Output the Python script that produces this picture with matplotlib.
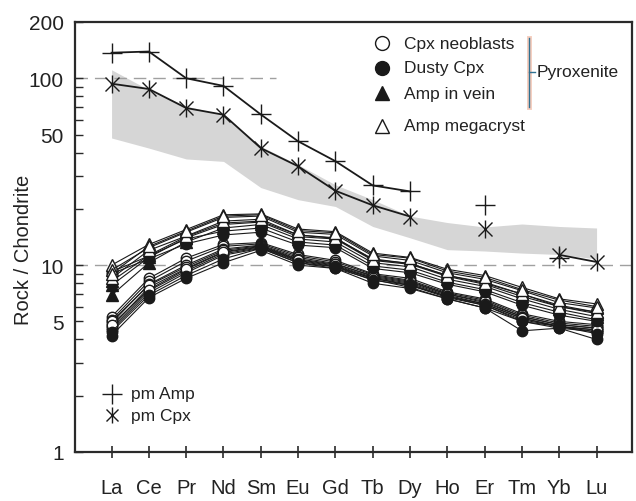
import numpy as np
import matplotlib
matplotlib.use("Agg")
import matplotlib.pyplot as plt
from matplotlib.ticker import FixedLocator, NullFormatter

plt.rcParams['font.family'] = ['Liberation Sans', 'DejaVu Sans']

elements = ["La", "Ce", "Pr", "Nd", "Sm", "Eu", "Gd", "Tb", "Dy", "Ho", "Er", "Tm", "Yb", "Lu"]
nan = np.nan

# primitive-melt style reference lines
pm_amp = [137, 139, 100, 91, 64, 46, 36, 26.7, 24.8, nan, 20.9, nan, 10.9, nan]
pm_cpx = [93.5, 87.6, 69.3, 63.8, 42.3, 33.8, 25.0, 20.9, 18.2, nan, 15.6, nan, 11.35, 10.4]

# grey field
band_upper = [111, 86.7, 71, 63.8, 43.2, 34.5, 26.9, 22.4, 18.3, 16.9, 16.0, 16.6, 16.1, 15.8]
band_lower = [47.9, 42.3, 37.0, 35.9, 26.0, 22.4, 20.6, 16.1, 14.0, 12.1, 11.9, 11.6, 11.4, 10.8]

amp_megacryst = [
    [10.0, 12.9, 15.5, 18.6, 18.8, 15.6, 15.1, 11.6, 11.0, 9.5, 8.8, 7.6, 6.6, 6.2],
    [9.4, 12.4, 15.0, 18.0, 18.3, 15.0, 14.6, 11.2, 10.6, 9.1, 8.4, 7.3, 6.3, 5.9],
    [8.5, 12.0, 14.3, 17.2, 17.6, 14.5, 14.0, 10.7, 10.2, 8.8, 8.0, 7.0, 6.0, 5.6],
    [9.0, 12.6, 15.2, 18.3, 18.6, 15.3, 14.9, 11.4, 10.9, 9.3, 8.6, 7.4, 6.5, 6.0],
]
amp_vein = [
    [6.9, 10.3, 13.3, 15.8, 16.5, 13.8, 13.3, 10.3, 9.8, 8.4, 7.7, 6.6, 5.8, 5.3],
    [7.8, 11.0, 14.0, 16.5, 17.0, 14.2, 13.8, 10.6, 10.1, 8.7, 7.9, 6.8, 6.0, 5.5],
    [8.2, 11.3, 14.2, 16.8, 17.2, 14.5, 13.9, 10.8, 10.2, 8.8, 8.1, 7.0, 6.1, 5.6],
]
dusty_cpx = [
    [9.2, 11.2, 13.8, 15.2, 15.8, 13.3, 12.8, 9.9, 9.4, 8.1, 7.4, 6.3, 5.6, 5.1],
    [9.0, 10.8, 13.0, 14.5, 15.0, 12.8, 12.4, 9.6, 9.1, 7.9, 7.2, 6.1, 5.4, 5.0],
    [4.2, 6.7, 8.5, 10.3, 12.0, 10.0, 9.6, 8.0, 7.5, 6.6, 5.9, 4.45, 4.6, 4.0],
    [4.4, 6.9, 8.8, 10.8, 12.3, 10.3, 9.8, 8.3, 7.8, 6.8, 6.1, 5.0, 4.7, 4.3],
]
cpx_neoblasts = [
    [5.3, 8.5, 10.9, 12.9, 13.2, 11.4, 10.6, 9.0, 8.5, 7.2, 6.6, 5.5, 5.0, 4.8],
    [5.1, 8.2, 10.5, 12.6, 13.0, 11.2, 10.4, 8.9, 8.3, 7.1, 6.5, 5.4, 4.9, 4.7],
    [4.9, 7.9, 10.0, 12.2, 12.8, 11.0, 10.2, 8.7, 8.1, 7.0, 6.3, 5.3, 4.8, 4.6],
    [4.7, 7.6, 9.6, 11.8, 12.6, 10.7, 10.0, 8.6, 8.0, 6.9, 6.2, 5.2, 4.7, 4.5],
    [4.6, 7.3, 9.3, 11.5, 12.4, 10.5, 9.8, 8.5, 7.8, 6.7, 6.1, 5.1, 4.7, 4.4],
    [4.5, 7.1, 9.1, 11.3, 12.3, 10.3, 9.6, 8.4, 7.6, 6.6, 5.9, 5.0, 4.6, 4.4],
    [5.0, 7.8, 9.8, 12.0, 12.7, 10.8, 10.1, 8.8, 8.2, 7.0, 6.4, 5.3, 4.8, 4.6],
    [4.8, 7.4, 9.5, 11.7, 12.5, 10.6, 9.9, 8.5, 7.9, 6.8, 6.2, 5.2, 4.7, 4.5],
]

W, H = 636, 502
fig = plt.figure(figsize=(W / 100, H / 100), dpi=100)
ax = fig.add_axes([75 / W, 1 - 453 / H, (632 - 75) / W, (453 - 23) / H])

x = np.arange(len(elements))
ax.set_yscale('log')
ax.set_ylim(1, 200)
ax.set_xlim(-0.98, 13.95)

# grey field
ax.fill_between(x, band_lower, band_upper, color='#d6d6d6', lw=0, zorder=1)

# dashed reference lines
ax.plot([-0.98, 4.4], [100, 100], color='#a0a0a0', lw=1.0, dashes=(9, 5), zorder=1.5)
ax.axhline(10, color='#a0a0a0', lw=1.0, dashes=(9, 5), zorder=1.5)

lc = '#1a1a1a'
ms = 7.5
for row in cpx_neoblasts:
    ax.plot(x, row, color=lc, lw=0.8, marker='o', ms=ms, mfc='white', mec=lc, mew=1.0, zorder=3)
for row in dusty_cpx:
    ax.plot(x, row, color=lc, lw=0.8, marker='o', ms=ms, mfc=lc, mec=lc, mew=1.0, zorder=3)
for row in amp_vein:
    ax.plot(x, row, color=lc, lw=0.8, marker='^', ms=ms + 0.5, mfc=lc, mec=lc, mew=1.0, zorder=3)
for row in amp_megacryst:
    ax.plot(x, row, color=lc, lw=0.8, marker='^', ms=ms + 0.5, mfc='white', mec=lc, mew=1.0, zorder=3)

# pm lines
ax.plot(x, pm_amp, color=lc, lw=1.3, marker='+', ms=14, mew=1.0, zorder=4)
ax.plot(x, pm_cpx, color=lc, lw=1.3, marker='x', ms=10, mew=1.0, zorder=4)
ax.plot(x, pm_cpx, lw=0, color=lc, marker='|', ms=13, mew=1.0, zorder=4)

# axes styling
for s in ax.spines.values():
    s.set_linewidth(1.6)
    s.set_color('#2a2a2a')
ax.set_xticks(x)
ax.set_xticklabels(elements, fontsize=14.5, color='#222222')
ax.tick_params(axis='x', direction='inout', length=9, width=1.2, pad=14, color='#2a2a2a')
ax.yaxis.set_major_locator(FixedLocator([1, 5, 10, 50, 100, 200]))
ax.set_yticklabels(['1', '5', '10', '50', '100', '200'])
ax.yaxis.set_minor_locator(FixedLocator([2, 3, 4, 6, 7, 8, 9, 20, 30, 40, 60, 70, 80, 90]))
ax.yaxis.set_minor_formatter(NullFormatter())
ax.tick_params(axis='y', which='both', direction='in', length=6, width=1.0, pad=8,
               labelsize=15, labelcolor='#222222', color='#2a2a2a')

def fx(px):
    return px / W
def fy(py):
    return 1 - py / H

# y-axis title
fig.text(fx(24), fy(250), 'Rock / Chondrite', rotation=90, fontsize=14.5, color='#222222',
         ha='center', va='center')

# legend (top right)
leg_items = [
    (44, 'o', 'white', 'Cpx neoblasts'),
    (69, 'o', lc, 'Dusty Cpx'),
    (94, '^', lc, 'Amp in vein'),
    (127, '^', 'white', 'Amp megacryst'),
]
for py, mk, fc, label in leg_items:
    fig.add_artist(plt.Line2D([fx(382)], [fy(py)], marker=mk, ms=10, mfc=fc, mec=lc, mew=1.0,
                              lw=0, transform=fig.transFigure))
    fig.text(fx(404), fy(py), label, fontsize=12.5, va='center', ha='left', color='#222222')

# bracket for Pyroxenite
fig.add_artist(plt.Line2D([fx(529), fx(529)], [fy(39), fy(108)], color='#f5cdbd', lw=3.5,
                          transform=fig.transFigure))
fig.add_artist(plt.Line2D([fx(529), fx(529)], [fy(39), fy(108)], color='#2f7090', lw=1.0,
                          transform=fig.transFigure))
fig.add_artist(plt.Line2D([fx(529), fx(535)], [fy(73), fy(73)], color='#2f7090', lw=1.0,
                          transform=fig.transFigure))
fig.text(fx(537), fy(73), 'Pyroxenite', fontsize=12.5, va='center', ha='left', color='#222222')

# legend (bottom left)
fig.add_artist(plt.Line2D([fx(112)], [fy(395)], marker='+', ms=14, mew=1.0, color=lc, lw=0,
                          transform=fig.transFigure))
fig.text(fx(131), fy(395), 'pm Amp', fontsize=12.5, va='center', ha='left', color='#222222')
fig.add_artist(plt.Line2D([fx(112)], [fy(416)], marker='x', ms=9, mew=1.0, color=lc, lw=0,
                          transform=fig.transFigure))
fig.add_artist(plt.Line2D([fx(112)], [fy(416)], marker='|', ms=11, mew=1.0, color=lc, lw=0,
                          transform=fig.transFigure))
fig.text(fx(131), fy(416), 'pm Cpx', fontsize=12.5, va='center', ha='left', color='#222222')

fig.savefig('out.png', dpi=100)
